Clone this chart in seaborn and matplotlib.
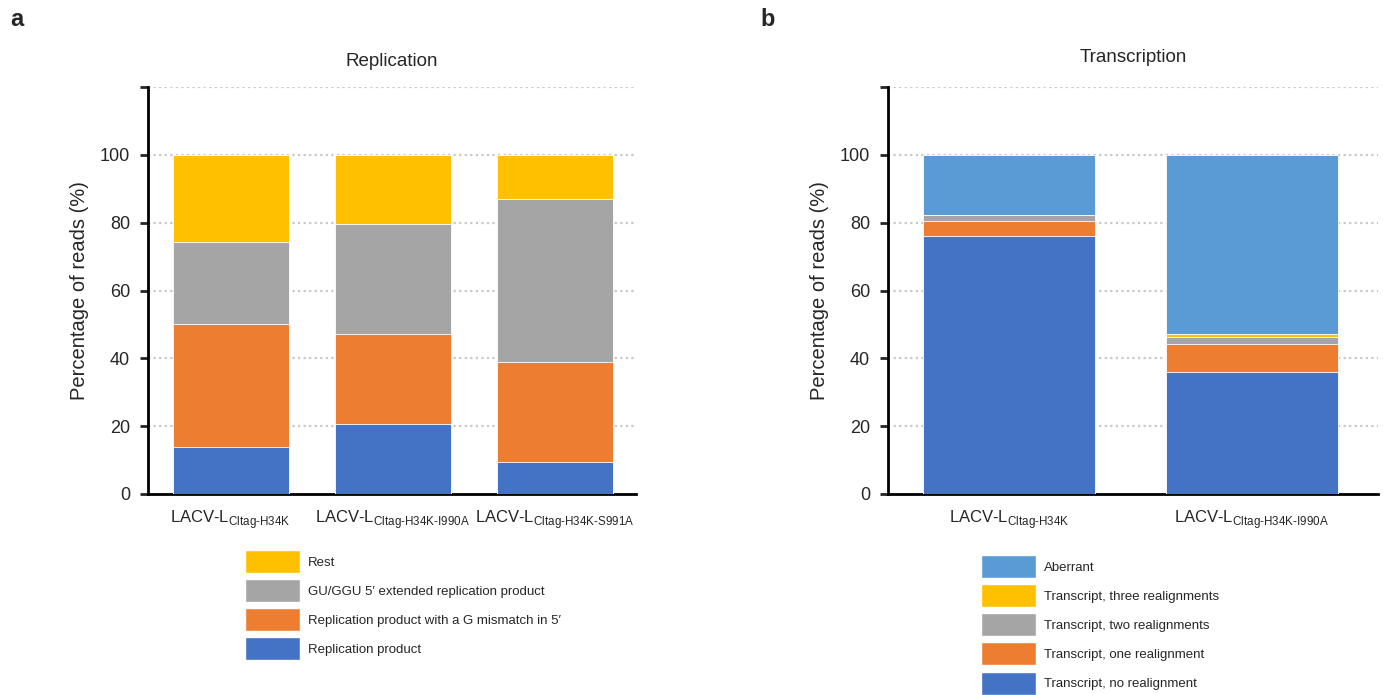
import numpy as np
import pandas as pd
import seaborn as sns
import matplotlib.pyplot as plt
from matplotlib.patches import Patch

# --- data (percent of reads) ---
rep_samples = ["H34K", "H34K-I990A", "H34K-S991A"]
rep_product = [14.0, 20.7, 9.5]
rep_g_mismatch = [36.0, 26.5, 29.4]
rep_gu_ggu = [24.2, 32.3, 48.2]
rep_rest = [25.8, 20.5, 12.9]

tr_samples = ["H34K", "H34K-I990A"]
tr_no_realign = [76.1, 35.9]
tr_one_realign = [4.4, 8.3]
tr_two_realign = [1.7, 2.1]
tr_three_realign = [0.0, 0.9]
tr_aberrant = [17.8, 52.8]

BLUE = "#4472C4"
ORANGE = "#ED7D31"
GRAY = "#A5A5A5"
YELLOW = "#FFC000"
LIGHTBLUE = "#5B9BD5"

sns.set_style("white")
plt.rcParams["font.family"] = ["Liberation Sans", "DejaVu Sans"]
plt.rcParams["mathtext.fontset"] = "custom"
plt.rcParams["mathtext.rm"] = "Liberation Sans"


def sample_label(s):
    # U+2010 hyphen so mathtext does not turn it into a minus
    sub = ("Cltag-" + s).replace("-", "\u2010")
    return "LACV\u2010L$_{\\mathrm{" + sub + "}}$"


def stacked(ax, samples, layers, colors, width):
    labels = [sample_label(s) for s in samples]
    cum = np.cumsum(np.array(layers), axis=0)
    # draw from the tallest cumulative total down so lower layers sit on top
    for i in range(len(layers) - 1, -1, -1):
        df = pd.DataFrame({"sample": labels, "value": cum[i]})
        sns.barplot(data=df, x="sample", y="value", color=colors[i], width=width,
                    saturation=1, edgecolor="white", linewidth=0.6, ax=ax, zorder=3)


def style_axes(ax, title, xlim, title_pad):
    ax.set_ylim(0, 120)
    ax.set_xlim(*xlim)
    ax.set_yticks([0, 20, 40, 60, 80, 100, 120])
    ax.set_yticklabels(["0", "20", "40", "60", "80", "100", ""])
    for y in [20, 40, 60, 80, 100, 120]:
        ax.axhline(y, color="#c8c8c8", lw=1.6, ls=(0, (1, 1.5)), zorder=1)
    for side in ["top", "right"]:
        ax.spines[side].set_visible(False)
    ax.spines["left"].set_linewidth(2)
    ax.spines["bottom"].set_linewidth(2)
    ax.spines["left"].set_color("black")
    ax.spines["bottom"].set_color("black")
    ax.tick_params(axis="y", direction="out", length=6, width=2, labelsize=13, pad=7, left=True)
    ax.tick_params(axis="x", length=0, labelsize=12, pad=10)
    ax.set_xlabel("")
    ax.set_ylabel("Percentage of reads (%)", fontsize=14.5, labelpad=8)
    ax.set_title(title, fontsize=13.5, pad=title_pad)


fig = plt.figure(figsize=(13.83, 6.95), dpi=100)
ax1 = fig.add_axes([148 / 1383, 1 - 494 / 695, (636 - 148) / 1383, (494 - 87) / 695])
ax2 = fig.add_axes([888 / 1383, 1 - 494 / 695, (1378 - 888) / 1383, (494 - 87) / 695])

rep_layers = [rep_product, rep_g_mismatch, rep_gu_ggu, rep_rest]
rep_colors = [BLUE, ORANGE, GRAY, YELLOW]
stacked(ax1, rep_samples, rep_layers, rep_colors, 0.715)
style_axes(ax1, "Replication", (-0.51, 2.5), 15)

tr_layers = [tr_no_realign, tr_one_realign, tr_two_realign, tr_three_realign, tr_aberrant]
tr_colors = [BLUE, ORANGE, GRAY, YELLOW, LIGHTBLUE]
stacked(ax2, tr_samples, tr_layers, tr_colors, 0.71)
style_axes(ax2, "Transcription", (-0.5, 1.52), 18)

rep_names = ["Replication product", "Replication product with a G mismatch in 5\u2032",
             "GU/GGU 5\u2032 extended replication product", "Rest"]
tr_names = ["Transcript, no realignment", "Transcript, one realignment",
            "Transcript, two realignments", "Transcript, three realignments", "Aberrant"]

h1 = [Patch(facecolor=c, label=n) for c, n in zip(rep_colors, rep_names)][::-1]
h2 = [Patch(facecolor=c, label=n) for c, n in zip(tr_colors, tr_names)][::-1]
leg_kw = dict(frameon=False, fontsize=9.5, handlelength=4.2, handleheight=2.3,
              labelspacing=0.47, handletextpad=0.6, borderaxespad=0, borderpad=0)
fig.legend(handles=h1, loc="upper left", bbox_to_anchor=(245 / 1383, 1 - 550 / 695), **leg_kw)
fig.legend(handles=h2, loc="upper left", bbox_to_anchor=(981 / 1383, 1 - 555 / 695), **leg_kw)

fig.text(10 / 1383, 1 - 20 / 695, "a", fontsize=17, fontweight="bold", va="center")
fig.text(760 / 1383, 1 - 20 / 695, "b", fontsize=17, fontweight="bold", va="center")

fig.savefig("out.png", dpi=100)
